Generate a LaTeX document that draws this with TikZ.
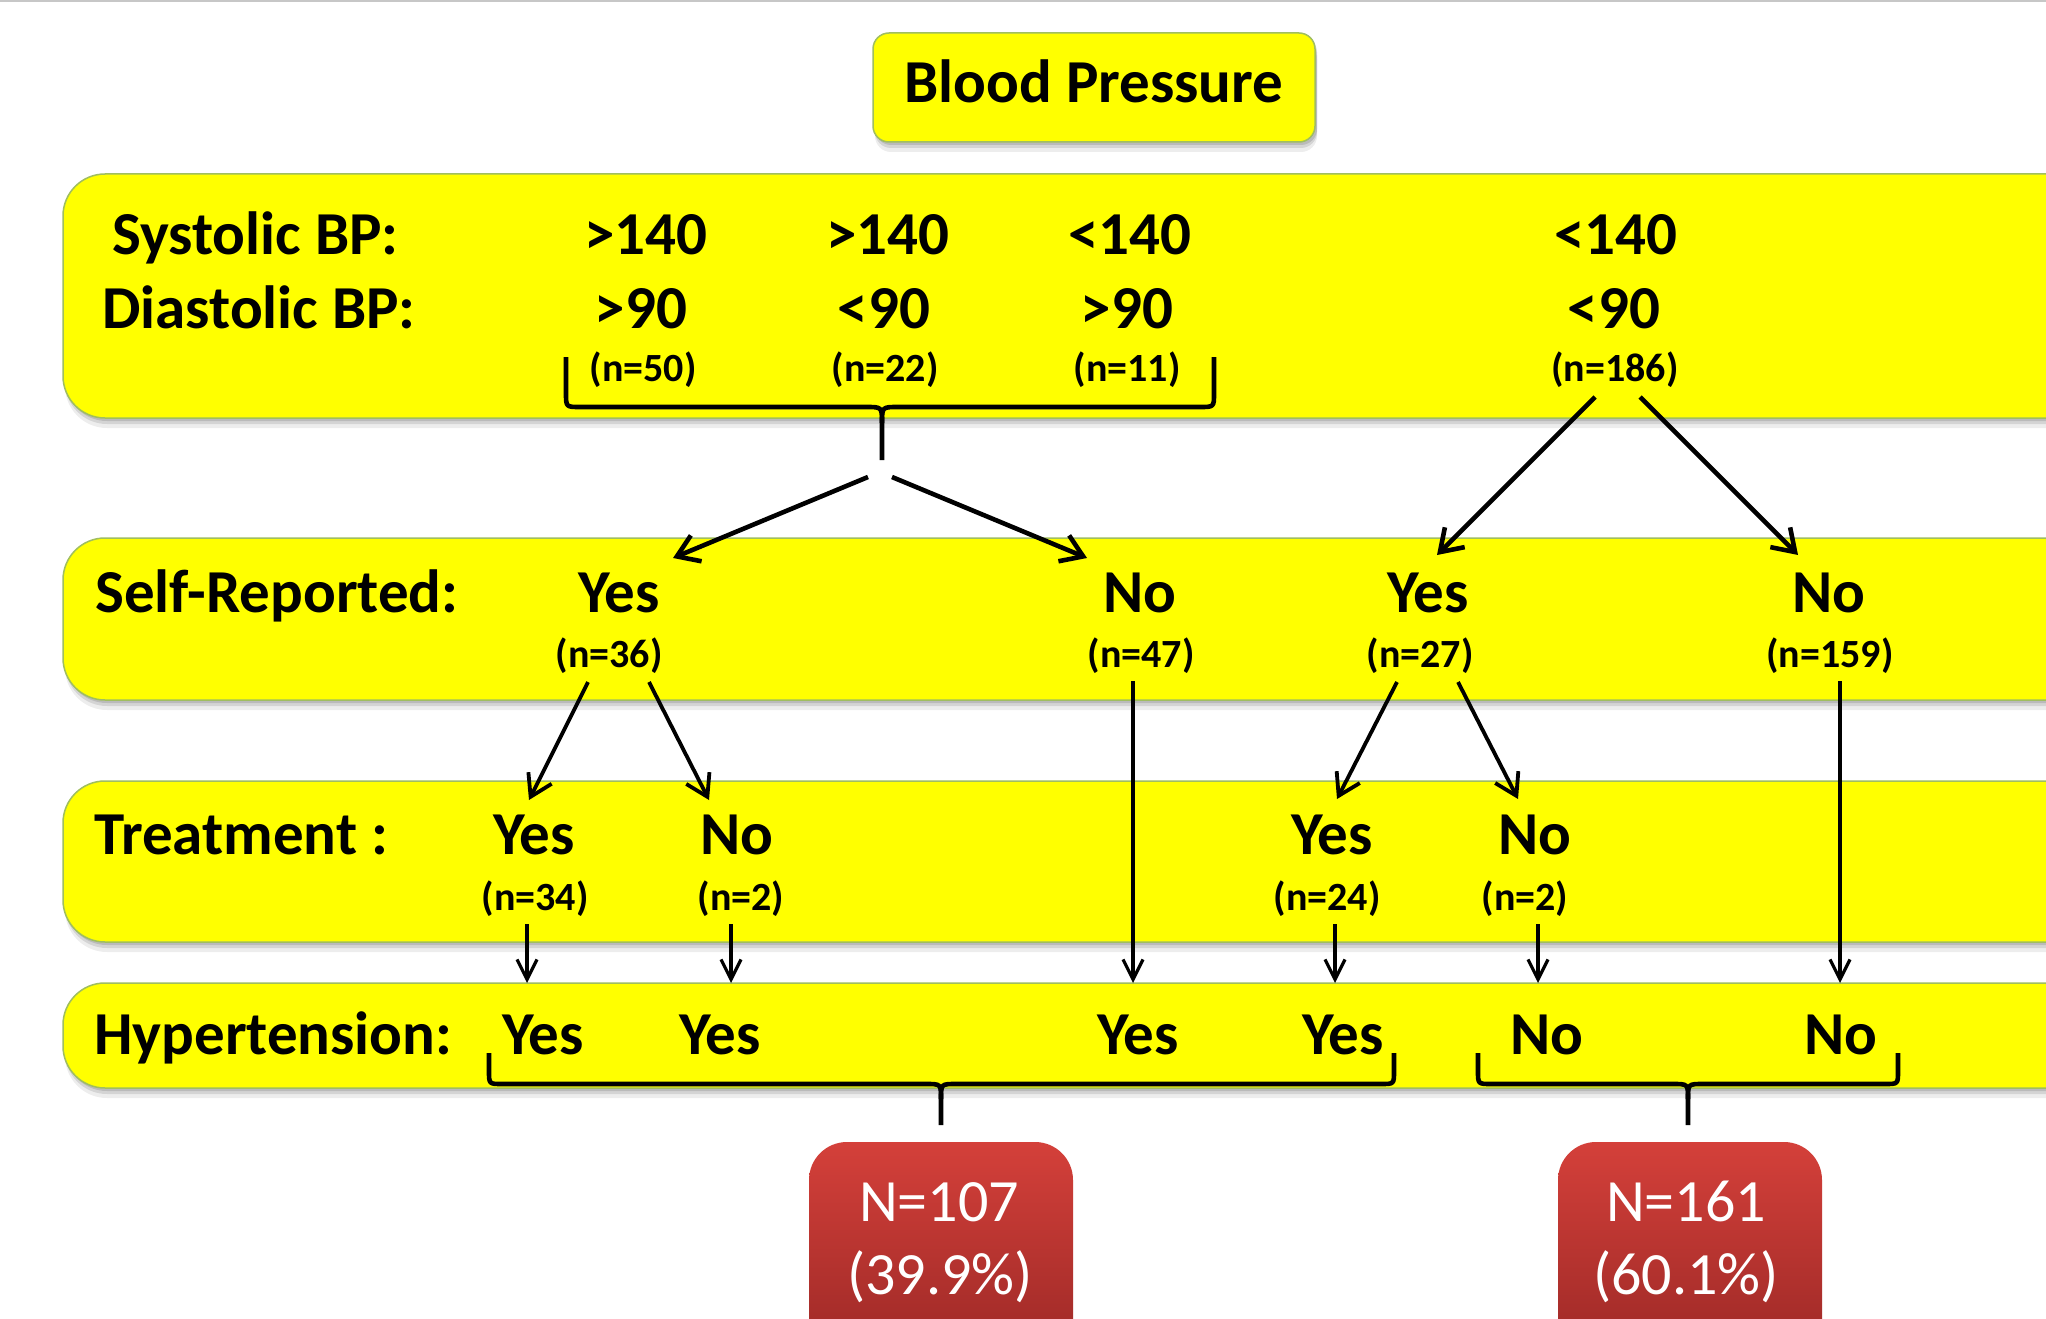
\documentclass[tikz,border=0pt]{standalone}
\usepackage{fontspec}
\setmainfont{Carlito}
\usetikzlibrary{arrows.meta,calc}
\definecolor{bandyellow}{RGB}{255,255,0}
\definecolor{bandedge}{RGB}{160,190,95}
\definecolor{redtop}{RGB}{212,64,58}
\definecolor{redbot}{RGB}{150,38,36}
\begin{document}
\begin{tikzpicture}[x=1pt,y=-1pt,
  big/.style={font=\fontsize{61}{63}\selectfont\bfseries, inner sep=0pt, anchor=base},
  lbl/.style={big, anchor=base west},
  cnt/.style={font=\fontsize{40}{42}\selectfont\bfseries, inner sep=0pt, anchor=base},
  redtxt/.style={font=\fontsize{60}{62}\selectfont, text=white, inner sep=0pt, anchor=base},
  softshadow/.style={
    preaction={draw=none, fill=black, fill opacity=.12, transform canvas={xshift=2pt,yshift=-3pt}},
    preaction={draw=none, fill=black, fill opacity=.10, transform canvas={xshift=2pt,yshift=-6pt}},
    preaction={draw=none, fill=black, fill opacity=.07, transform canvas={xshift=2pt,yshift=-10pt}}},
  band/.style={softshadow, fill=bandyellow, draw=bandedge, line width=1.5pt, rounded corners=42pt},
  titlebox/.style={softshadow, fill=bandyellow, draw=bandedge, line width=1.5pt, rounded corners=16pt,
    minimum width=442pt, minimum height=109pt, inner sep=0pt, text height=40pt, text depth=9pt,
    font=\fontsize{61}{63}\selectfont\bfseries},
  redbox/.style={rounded corners=38pt, top color=redtop, bottom color=redbot, draw=none,
    minimum width=264pt, minimum height=240pt, inner sep=0pt},
  brace/.style={draw=black, line width=4.6pt, line join=round},
  arrbig/.style={draw=black, line width=4.6pt, -{Straight Barb[length=21pt,width=28pt]}},
  arrmid/.style={draw=black, line width=3.8pt, -{Straight Barb[length=21pt,width=26pt]}},
  arrsmall/.style={draw=black, line width=3.2pt, -{Straight Barb[length=20pt,width=20pt]}}
]
\useasboundingbox (0,0) rectangle (2046,1319);
\clip (0,0) rectangle (2046,1319);
\fill[white] (0,0) rectangle (2046,1319);
\draw[line width=3pt, black!22] (0,1) -- (2046,1);

% bands
\path[band] (63,174) rectangle (2160,418);
\path[band] (63,538) rectangle (2160,700);
\path[band] (63,781) rectangle (2160,942);
\path[band] (63,983) rectangle (2160,1088);

% title
\node[titlebox] (title) at (1094,87.5) {Blood Pressure};

% row 1
\node[lbl] (sysl) at (112,254) {Systolic BP:};
\node[lbl] (dial) at (102,328) {Diastolic BP:};
\node[big] (s1) at (646,254) {>140};
\node[big] (s2) at (888,254) {>140};
\node[big] (s3) at (1130,254) {<140};
\node[big] (s4) at (1616,254) {<140};
\node[big] (d1) at (641,328) {>90};
\node[big] (d2) at (884,328) {<90};
\node[big] (d3) at (1127,328) {>90};
\node[big] (d4) at (1614,328) {<90};
\node[cnt] (n50) at (643,381) {(n=50)};
\node[cnt] (n22) at (885,381) {(n=22)};
\node[cnt] (n11) at (1127,381) {(n=11)};
\node[cnt] (n186) at (1615,381) {(n=186)};

% row 2
\node[lbl] (selfl) at (95,612) {Self-Reported:};
\node[big] (sY1) at (619,612) {Yes};
\node[big] (sN1) at (1140,612) {No};
\node[big] (sY2) at (1428,612) {Yes};
\node[big] (sN2) at (1829,612) {No};
\node[cnt] (n36) at (609,667) {(n=36)};
\node[cnt] (n47) at (1141,667) {(n=47)};
\node[cnt] (n27) at (1420,667) {(n=27)};
\node[cnt] (n159) at (1830,667) {(n=159)};

% row 3
\node[lbl] (treatl) at (94,854) {Treatment :};
\node[big] (tY1) at (534,854) {Yes};
\node[big] (tN1) at (737,854) {No};
\node[big] (tY2) at (1332,854) {Yes};
\node[big] (tN2) at (1535,854) {No};
\node[cnt] (n34) at (535,910) {(n=34)};
\node[cnt] (n2a) at (741,910) {(n=2)};
\node[cnt] (n24) at (1327,910) {(n=24)};
\node[cnt] (n2b) at (1525,910) {(n=2)};

% row 4
\node[lbl] (hypl) at (94,1054) {Hypertension:};
\node[big] (hY1) at (543,1054) {Yes};
\node[big] (hY2) at (720,1054) {Yes};
\node[big] (hY3) at (1138,1054) {Yes};
\node[big] (hY4) at (1343,1054) {Yes};
\node[big] (hN1) at (1547,1054) {No};
\node[big] (hN2) at (1841,1054) {No};

% result boxes
\node[redbox] (r1) at (941,1262) {};
\node[redbox] (r2) at (1690,1262) {};
\node[redtxt] (r1n) at (939,1221) {N=107};
\node[redtxt] (r1p) at (940,1294) {(39.9\%)};
\node[redtxt] (r2n) at (1686,1221) {N=161};
\node[redtxt] (r2p) at (1686,1294) {(60.1\%)};

% braces
\coordinate (b1l) at (566,357);
\coordinate (b1r) at (1214,357);
\coordinate (b1tip) at (882,460);
\draw[brace] (b1l) -- (566,393) .. controls (566,407) .. (580,407) -- (866,407)
  .. controls (882,407) .. (882,423) -- (b1tip);
\draw[brace] (b1r) -- (1214,393) .. controls (1214,407) .. (1200,407) -- (898,407)
  .. controls (882,407) .. (882,423);

\coordinate (b2l) at (489,1053);
\coordinate (b2r) at (1394,1053);
\coordinate (b2tip) at (941,1125);
\draw[brace] (b2l) -- (489,1071) .. controls (489,1084) .. (502,1084) -- (926,1084)
  .. controls (941,1084) .. (941,1099) -- (b2tip);
\draw[brace] (b2r) -- (1394,1071) .. controls (1394,1084) .. (1381,1084) -- (956,1084)
  .. controls (941,1084) .. (941,1099);

\coordinate (b3l) at (1478,1053);
\coordinate (b3r) at (1898,1053);
\coordinate (b3tip) at (1688,1125);
\draw[brace] (b3l) -- (1478,1071) .. controls (1478,1084) .. (1491,1084) -- (1673,1084)
  .. controls (1688,1084) .. (1688,1099) -- (b3tip);
\draw[brace] (b3r) -- (1898,1071) .. controls (1898,1084) .. (1885,1084) -- (1703,1084)
  .. controls (1688,1084) .. (1688,1099);

% arrows row 1 -> row 2
\draw[arrbig] ($(b1tip)+(-14,17)$) -- ($(sY1.base)+(54,-54)$);
\draw[arrbig] ($(b1tip)+(10,17)$) -- ($(sN1.base)+(-53,-54)$);
\draw[arrbig] ($(n186.base)+(-20,16)$) -- ($(sY2.base)+(9,-57)$);
\draw[arrbig] ($(n186.base)+(25,16)$) -- ($(sN2.base)+(-31,-57)$);

% arrows row 2 -> row 3 / row 4
\draw[arrmid] ($(n36.base)+(-21,15)$) -- ($(tY1.base)+(-5,-54)$);
\draw[arrmid] ($(n36.base)+(40,15)$) -- ($(tN1.base)+(-28,-54)$);
\draw[arrsmall] ($(n47.base)+(-8,14)$) -- ($(hY3.base)+(-5,-71)$);
\draw[arrmid] ($(n27.base)+(-23,15)$) -- ($(tY2.base)+(5,-55)$);
\draw[arrmid] ($(n27.base)+(38,15)$) -- ($(tN2.base)+(-17,-55)$);
\draw[arrsmall] ($(n159.base)+(10,14)$) -- ($(hN2.base)+(-1,-71)$);

% arrows row 3 -> row 4
\draw[arrsmall] ($(n34.base)+(-8,14)$) -- ($(hY1.base)+(-16,-71)$);
\draw[arrsmall] ($(n2a.base)+(-10,14)$) -- ($(hY2.base)+(11,-71)$);
\draw[arrsmall] ($(n24.base)+(8,14)$) -- ($(hY4.base)+(-8,-71)$);
\draw[arrsmall] ($(n2b.base)+(13,14)$) -- ($(hN1.base)+(-9,-71)$);
\end{tikzpicture}
\end{document}
